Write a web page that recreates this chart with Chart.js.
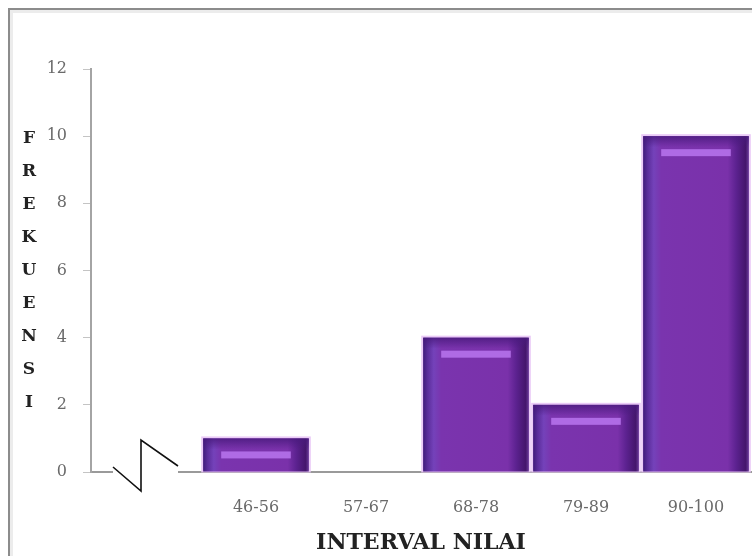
<!DOCTYPE html>
<html>
<head>
<meta charset="utf-8">
<script src="https://cdn.jsdelivr.net/npm/chart.js@4"></script>
<style>
  html, body { margin: 0; padding: 0; background: #fff; }
  #wrap { position: relative; width: 752px; height: 556px; overflow: hidden; background: #fff; filter: blur(0.5px); }
  #frame {
    position: absolute; left: 8px; top: 8px; width: 800px; height: 600px;
    border-left: 2px solid #8c8c8c; border-top: 2px solid #8c8c8c;
    box-shadow: inset 3px 3px 0 #ececec;
  }
  #c { position: absolute; left: 0; top: 0; }
</style>
</head>
<body>
<div id="wrap">
  <div id="frame"></div>
  <canvas id="c" width="752" height="556"></canvas>
</div>
<script>
// Frequency of scores per interval; the first (blank) slot holds the axis break.
const categories = ['', '46-56', '57-67', '68-78', '79-89', '90-100'];
const frequencies = [null, 1, 0, 4, 2, 10];
const yTickValues = [0, 2, 4, 6, 8, 10, 12];
const yTitle = 'FREKUENSI';
const xTitle = 'INTERVAL NILAI';

const SERIF = "'DejaVu Serif', 'Liberation Serif', serif";

// Shaded, bevelled look for each bar, painted over the library's bar geometry.
const barShade = {
  id: 'barShade',
  afterDatasetsDraw(chart) {
    const ctx = chart.ctx;
    const meta = chart.getDatasetMeta(0);
    meta.data.forEach((bar, i) => {
      if (!frequencies[i]) return;
      const { x, y, base, width } = bar.getProps(['x', 'y', 'base', 'width'], true);
      const l = x - width / 2, r = x + width / 2, h = base - y;
      ctx.save();
      // pale rim around the bar
      ctx.strokeStyle = 'rgba(232,196,246,0.9)';
      ctx.lineWidth = 2;
      ctx.strokeRect(l - 1, y - 1, width + 2, h + 1);
      // side shading
      const g = ctx.createLinearGradient(l, 0, r, 0);
      g.addColorStop(0.00, '#3f1c7a');
      g.addColorStop(0.04, '#5a2c9a');
      g.addColorStop(0.10, '#7442ba');
      g.addColorStop(0.17, '#7a34ae');
      g.addColorStop(0.80, '#7a31aa');
      g.addColorStop(0.88, '#5c2290');
      g.addColorStop(0.97, '#44166c');
      g.addColorStop(1.00, '#6a3c98');
      ctx.fillStyle = g;
      ctx.fillRect(l, y, width, h);
      // darker band along the top
      const tg = ctx.createLinearGradient(0, y, 0, y + 11);
      tg.addColorStop(0, 'rgba(72,26,124,0.8)');
      tg.addColorStop(1, 'rgba(72,26,124,0)');
      ctx.fillStyle = tg;
      ctx.fillRect(l, y, width, Math.min(11, h));
      // light highlight strip near the top
      ctx.fillStyle = 'rgba(184,118,238,0.85)';
      ctx.fillRect(l + 18, y + 13, width - 36, 7);
      ctx.restore();
    });
  }
};

// Axis titles, axis break symbol.
const decorations = {
  id: 'decorations',
  afterDraw(chart) {
    const ctx = chart.ctx;
    const area = chart.chartArea;
    const xs = chart.scales.x, ys = chart.scales.y;
    ctx.save();

    // break in the category axis
    const xc = xs.getPixelForValue(0);
    const y0 = ys.getPixelForValue(0);
    ctx.fillStyle = '#fff';
    ctx.fillRect(xc - 33, y0 - 3, 65, 6);
    ctx.strokeStyle = '#111';
    ctx.lineWidth = 1.6;
    ctx.beginPath();
    ctx.moveTo(xc - 33, y0 - 5);
    ctx.lineTo(xc - 5, y0 + 19);
    ctx.lineTo(xc - 5, y0 - 32);
    ctx.lineTo(xc + 32, y0 - 6);
    ctx.stroke();

    // vertical stacked title
    ctx.fillStyle = '#222';
    ctx.font = "bold 17px " + SERIF;
    ctx.textAlign = 'center';
    ctx.textBaseline = 'middle';
    const letters = yTitle.split('');
    const step = 33;
    const midY = (area.top + area.bottom) / 2;
    const firstY = midY - step * (letters.length - 1) / 2;
    letters.forEach((ch, k) => ctx.fillText(ch, 29, firstY + k * step));

    // horizontal title
    ctx.font = "bold 22px " + SERIF;
    ctx.fillStyle = '#222';
    ctx.fillText(xTitle, (area.left + area.right) / 2, 543);
    ctx.restore();
  }
};

new Chart(document.getElementById('c'), {
  type: 'bar',
  data: {
    labels: categories,
    datasets: [{
      data: frequencies,
      backgroundColor: '#7a32ac',
      borderWidth: 0,
      barPercentage: 0.96,
      categoryPercentage: 1.0
    }]
  },
  options: {
    responsive: false,
    animation: false,
    events: [],
    layout: { padding: { top: 69, right: 1, left: 0, bottom: 0 } },
    plugins: { legend: { display: false }, tooltip: { enabled: false } },
    scales: {
      x: {
        grid: { display: false, drawTicks: false },
        border: { color: '#9a9a9a', width: 2 },
        ticks: {
          padding: 26, color: '#6a6a6a', autoSkip: false, maxRotation: 0,
          font: { family: SERIF, size: 16 }
        },
        afterFit(scale) { scale.height = 84; }
      },
      y: {
        min: 0, max: 12,
        afterBuildTicks(scale) { scale.ticks = yTickValues.map(v => ({ value: v })); },
        ticks: { padding: 16, color: '#6a6a6a', font: { family: SERIF, size: 16 } },
        grid: { drawOnChartArea: false, tickLength: 8, color: '#c4c4c4' },
        border: { color: '#a4a4a4', width: 2 },
        afterFit(scale) { scale.width = 91; }
      }
    }
  },
  plugins: [barShade, decorations]
});
</script>
</body>
</html>
